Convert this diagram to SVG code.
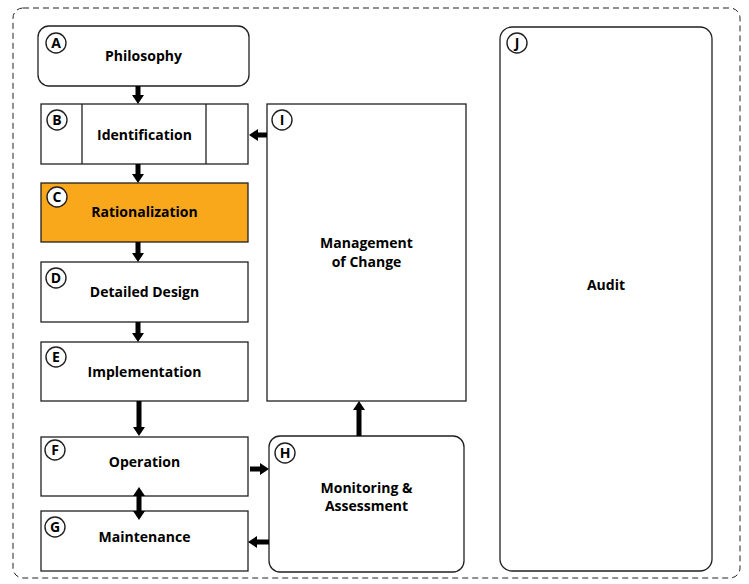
<svg xmlns="http://www.w3.org/2000/svg" width="749" height="584" viewBox="0 0 749 584">
<style>
.box{fill:#fff;stroke:#231f20;stroke-width:1.3}
.hl{fill:#f9a81b}
.lbl{font-family:"Open Sans","Liberation Sans",sans-serif;font-weight:bold;font-size:14px;fill:#000;text-anchor:middle}
.cir{fill:#fff;stroke:#231f20;stroke-width:1.4}
.let{font-family:"Open Sans","Liberation Sans",sans-serif;font-weight:bold;font-size:14px;fill:#000;text-anchor:middle}
.arr{stroke:#000;stroke-width:5;fill:none;marker-end:url(#ah)}
.dbl{marker-start:url(#ah)}
</style>
<defs>
<marker id="ah" viewBox="0 0 9 12" refX="0" refY="6" markerWidth="9" markerHeight="12" markerUnits="userSpaceOnUse" orient="auto-start-reverse">
<path d="M0,0 L9,6 L0,12 z" fill="#000"/>
</marker>
</defs>
<rect id="frame" x="13" y="8" width="727" height="570" rx="10" fill="none" stroke="#222" stroke-width="1" stroke-dasharray="6,4"/>
<g id="nodeA"><rect class="box" x="38" y="26" width="211" height="60" rx="11"/><circle class="cir" cx="56" cy="43" r="10"/><text class="let" x="56" y="48">A</text><text class="lbl" x="143.5" y="61">Philosophy</text></g>
<g id="nodeB"><rect class="box" x="41" y="104" width="207" height="60"/><line x1="82" y1="104" x2="82" y2="164" stroke="#231f20" stroke-width="1.3"/><line x1="206" y1="104" x2="206" y2="164" stroke="#231f20" stroke-width="1.3"/><circle class="cir" cx="57" cy="120" r="10"/><text class="let" x="57" y="125">B</text><text class="lbl" x="144.5" y="140">Identification</text></g>
<g id="nodeC"><rect class="box hl" x="41" y="183" width="207" height="59"/><circle class="cir" cx="57" cy="197" r="10"/><text class="let" x="57" y="202">C</text><text class="lbl" x="144.5" y="217">Rationalization</text></g>
<g id="nodeD"><rect class="box" x="41" y="262" width="207" height="60"/><circle class="cir" cx="56" cy="278" r="10"/><text class="let" x="56" y="283">D</text><text class="lbl" x="144.5" y="297">Detailed Design</text></g>
<g id="nodeE"><rect class="box" x="41" y="342" width="207" height="59"/><circle class="cir" cx="56" cy="357" r="10"/><text class="let" x="56" y="362">E</text><text class="lbl" x="144.5" y="377">Implementation</text></g>
<g id="nodeF"><rect class="box" x="41" y="437" width="207" height="59"/><circle class="cir" cx="55" cy="450" r="10"/><text class="let" x="55" y="455">F</text><text class="lbl" x="144.5" y="467">Operation</text></g>
<g id="nodeG"><rect class="box" x="41" y="511" width="207" height="60"/><circle class="cir" cx="55" cy="527" r="10"/><text class="let" x="55" y="532">G</text><text class="lbl" x="144.5" y="542">Maintenance</text></g>
<g id="nodeH"><rect class="box" x="269" y="436" width="195" height="136" rx="11"/><circle class="cir" cx="285" cy="453" r="10"/><text class="let" x="285" y="458">H</text><text class="lbl" x="366.5" y="493">Monitoring &amp;</text><text class="lbl" x="366.5" y="511">Assessment</text></g>
<g id="nodeI"><rect class="box" x="267" y="104" width="199" height="297"/><circle class="cir" cx="282" cy="120" r="10"/><text class="let" x="282" y="125">I</text><text class="lbl" x="366.5" y="248">Management</text><text class="lbl" x="366.5" y="267">of Change</text></g>
<g id="nodeJ"><rect class="box" x="500" y="27" width="212" height="544" rx="12"/><circle class="cir" cx="517" cy="43" r="10"/><text class="let" x="517" y="48">J</text><text class="lbl" x="606" y="290">Audit</text></g>
<g id="connectors">
<line class="arr" x1="138" y1="86" x2="138" y2="95"/>
<line class="arr" x1="138" y1="164" x2="138" y2="174"/>
<line class="arr" x1="138" y1="242" x2="138" y2="253"/>
<line class="arr" x1="138" y1="322" x2="138" y2="333"/>
<line class="arr" x1="139" y1="401" x2="139" y2="427"/>
<line class="arr dbl" x1="139" y1="496" x2="139" y2="511"/>
<line class="arr" x1="250" y1="469" x2="260" y2="469"/>
<line class="arr" x1="269" y1="542" x2="257" y2="542"/>
<line class="arr" x1="359" y1="436" x2="359" y2="410"/>
<line class="arr" x1="267" y1="135" x2="258" y2="135"/>
</g>
</svg>
